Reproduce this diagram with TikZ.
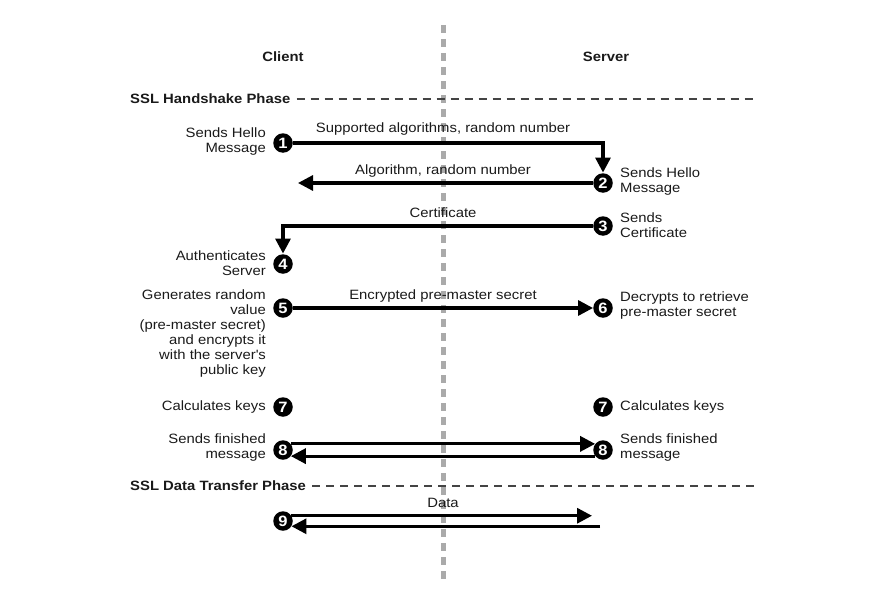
\documentclass[tikz,border=0pt]{standalone}
\usepackage{fontspec}
\setmainfont{Liberation Sans}[FakeStretch=1.1]
\usetikzlibrary{arrows.meta}
\definecolor{txt}{HTML}{1A1A1A}
\definecolor{vgray}{HTML}{AAAAAA}
\definecolor{hgray}{HTML}{444444}
\begin{document}
\begin{tikzpicture}[x=1pt,y=-1pt,
  num/.style={circle, fill=black, text=white, font=\bfseries\fontsize{15}{15}\selectfont, inner sep=0pt, minimum size=19.5pt},
  lbl/.style={font=\fontsize{13.5}{15}\selectfont, text=txt, inner sep=0pt},
  head/.style={font=\bfseries\fontsize{13.5}{15}\selectfont, text=txt, inner sep=0pt},
  msg/.style={-{Triangle[length=15pt,width=15pt]}, line width=3.2pt, black},
  vdash/.style={line width=5pt, vgray, dash pattern=on 8pt off 6pt},
  hdash/.style={line width=1.6pt, hgray, dash pattern=on 8pt off 6pt}]
\useasboundingbox (0,0) rectangle (896,602);
% vertical divider
\coordinate (vt) at (443,25);
\coordinate (vb) at (443,582);
\draw[vdash] (vt) -- (vb);
% headings
\node[head] (client) at (283,57) {Client};
\node[head] (server) at (606,57) {Server};
\coordinate (hend) at (755,0);
\node[head, anchor=west] (ph1) at (130,99) {SSL Handshake Phase};
\draw[hdash] ([xshift=6pt]ph1.east) -- (ph1.east -| hend);
\node[head, anchor=west] (ph2) at (130,486) {SSL Data Transfer Phase};
\draw[hdash] ([xshift=6pt]ph2.east) -- (ph2.east -| hend);
% step circles
\node[num] (n1) at (283,143) {1};
\node[num] (n2) at (603,183) {2};
\node[num] (n3) at (603,226) {3};
\node[num] (n4) at (283,264) {4};
\node[num] (n5) at (283,308) {5};
\node[num] (n6) at (603,308) {6};
\node[num] (n7l) at (283,407) {7};
\node[num] (n7r) at (603,407) {7};
\node[num] (n8l) at (283,450) {8};
\node[num] (n8r) at (603,450) {8};
\node[num] (n9) at (283,521) {9};
% side texts
\node[lbl, anchor=east, align=right] (t1) at (266,142) {Sends Hello\\Message};
\node[lbl, anchor=west, align=left] (t2) at (620,182) {Sends Hello\\Message};
\node[lbl, anchor=west, align=left] (t3) at (620,225) {Sends\\Certificate};
\node[lbl, anchor=east, align=right] (t4) at (266,263) {Authenticates\\Server};
\node[lbl, anchor=north east, align=right] (t5) at (266,290) {Generates random\\value\\(pre-master secret)\\and encrypts it\\with the server\textquotesingle s\\public key};
\node[lbl, anchor=west, align=left] (t6) at (620,306) {Decrypts to retrieve\\pre-master secret};
\node[lbl, anchor=east] (t7l) at (266,407) {Calculates keys};
\node[lbl, anchor=west] (t7r) at (620,407) {Calculates keys};
\node[lbl, anchor=east, align=right] (t8l) at (266,448) {Sends finished\\message};
\node[lbl, anchor=west, align=left] (t8r) at (620,448) {Sends finished\\message};
% connector labels
\node[lbl] (l1) at (443,129) {Supported algorithms, random number};
\node[lbl] (l2) at (443,171) {Algorithm, random number};
\node[lbl] (l3) at (443,213) {Certificate};
\node[lbl] (l5) at (443,296) {Encrypted pre-master secret};
\node[lbl] (l9) at (443,503) {Data};
% connectors
\draw[msg, shorten >=0.5pt] (n1) -| (n2.north);
\coordinate (a2) at (298,183);
\draw[msg] (n2) -- (a2);
\draw[msg, shorten >=0.5pt] (n3) -| (n4.north);
\draw[msg] (n5) -- (n6);
\draw[msg] (n8l.38) -- (n8r.142);
\draw[msg] (n8r.-142) -- (n8l.-38);
\coordinate (d9a) at (592,0);
\coordinate (d9b) at (600,0);
\draw[msg] (n9.32) -- (n9.32 -| d9a);
\draw[msg] (n9.-32 -| d9b) -- (n9.-32);
\end{tikzpicture}
\end{document}
